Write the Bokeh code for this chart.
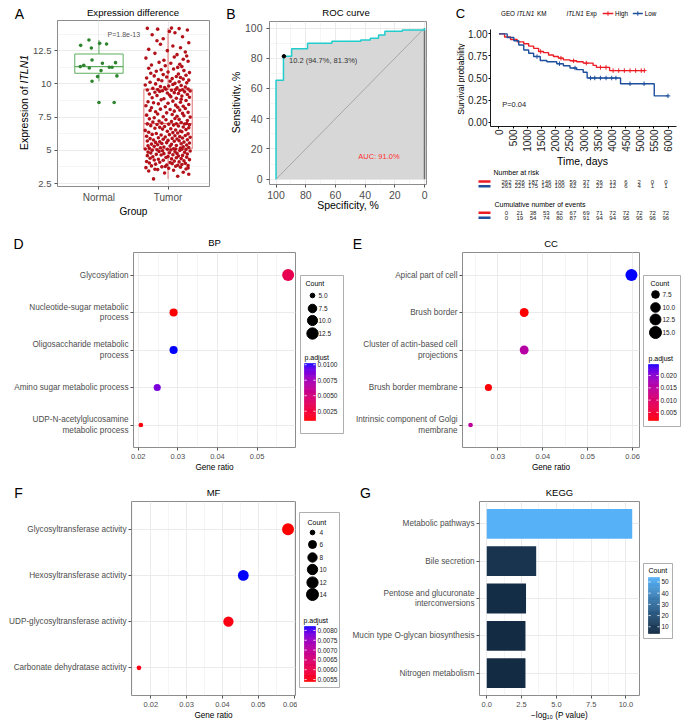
import math
import numpy as np
from bokeh.plotting import figure
from bokeh.models import (Range1d, FixedTicker, Label, LinearColorMapper,
                          PrintfTickFormatter, ColumnDataSource)
from bokeh.layouts import row, column
from bokeh.transform import transform
from bokeh.core.properties import value
from bokeh.embed import file_html
from bokeh.resources import INLINE

FONT = "Liberation Sans"

# ======================= DATA =======================
# ---- A: expression difference ----
groups = ["Normal", "Tumor"]
p_label_A = "P=1.8e-13"
normal_jitter = [-0.145, 0.01, 0.11, -0.265, -0.11, -0.22, -0.14, -0.27, -0.10, 0.05,
                 0.24, 0.15, 0.19, 0.03, -0.02, 0.26, -0.10, 0.0, 0.22]
normal_expr = [13.3, 13.05, 13.0, 12.9, 12.7, 11.4, 11.2, 11.3, 11.8, 11.55,
               11.6, 11.25, 11.25, 11.0, 10.55, 10.6, 10.2, 8.6, 8.6]
tumor_jitter = [
    -0.21, 0.14, 0.30, -0.05, 0.22, -0.28, 0.08, -0.15, 0.26, 0.01,
    -0.32, 0.18, -0.09, 0.11, -0.24, 0.29, -0.02, 0.20, -0.18, 0.06,
    0.25, -0.27, 0.03, -0.12, 0.16, -0.31, 0.09, 0.23, -0.07, -0.20,
    0.31, -0.14, 0.05, 0.19, -0.26, 0.12, -0.03, 0.27, -0.22, 0.00,
    0.15, -0.30, 0.21, -0.10, 0.07, -0.17, 0.28, -0.06, 0.13, -0.25,
    0.02, 0.24, -0.29, 0.10, -0.13, 0.32, -0.08, 0.17, -0.23, 0.04,
    -0.16, 0.26, -0.01, 0.20, -0.33, 0.11, -0.19, 0.29, -0.04, 0.14,
    0.08, -0.27, 0.18, -0.11, 0.30, -0.06, 0.22, -0.20, 0.03, -0.29,
    0.12, 0.27, -0.15, 0.05, -0.24, 0.19, -0.09, 0.31, -0.02, -0.18,
    0.23, -0.12, 0.09, -0.30, 0.16, 0.00, -0.21, 0.28, -0.07, 0.13,
    -0.26, 0.06, 0.21, -0.14, 0.32, -0.04, 0.17, -0.31, 0.10, 0.25,
    -0.10, 0.02, -0.23, 0.29, -0.17, 0.14, 0.07, -0.28, 0.20, -0.01,
    0.18, -0.33, 0.11, 0.26, -0.08, 0.04, -0.19, 0.30, -0.12, 0.22,
    -0.05, 0.15, -0.25, 0.08, 0.31, -0.16, 0.01, 0.24, -0.30, 0.12,
    0.27, -0.09, 0.19, -0.22, 0.05, -0.13, 0.28, -0.03, 0.16, -0.27,
    0.10, -0.20, 0.32, -0.07, 0.13, 0.23, -0.31, 0.06, -0.15, 0.21,
    -0.02, 0.29, -0.18, 0.09, -0.26, 0.17, 0.03, -0.11, 0.25, -0.24,
    0.14, -0.04, 0.22, -0.32, 0.11, 0.30, -0.14, 0.00, -0.21, 0.18,
    -0.29, 0.07, 0.26, -0.10, 0.19, -0.06, 0.12, -0.23, 0.31, 0.04,
    0.20, -0.16, 0.02, 0.28, -0.27, 0.15, -0.01, 0.09, -0.19, 0.24,
    -0.12, 0.32, -0.08, 0.17, 0.05, -0.30, 0.21, -0.15, 0.11, -0.03,
    0.29, -0.22, 0.13, -0.05, 0.25, -0.11, 0.01, 0.19, -0.33, 0.07,
    -0.18, 0.10, 0.27, -0.26, 0.16, 0.03, -0.09, 0.30, -0.14, 0.22,
    0.06, -0.31, 0.18, -0.02, 0.12, -0.20, 0.26, -0.07, 0.15, -0.25,
    0.31, 0.00, -0.17, 0.23, -0.10, 0.08, -0.28, 0.14, 0.20, -0.04,
    -0.24, 0.17, 0.04, -0.13, 0.29, -0.06, 0.22, -0.32, 0.09, 0.27,
    0.13, -0.19, 0.25, -0.01, -0.28, 0.18, 0.07, -0.11, 0.30, -0.16,
    -0.07, 0.21, -0.23, 0.10, 0.02, 0.28, -0.15, 0.16, -0.30, 0.05]
tumor_expr = [
    2.85, 3.05, 3.2, 3.3, 3.35, 3.45, 3.5, 3.55, 3.6, 3.65,
    3.7, 3.73, 3.76, 3.8, 3.83, 3.86, 3.9, 3.93, 3.96, 4.0,
    4.02, 4.05, 4.08, 4.1, 4.13, 4.16, 4.19, 4.22, 4.25, 4.27,
    4.3, 4.33, 4.36, 4.38, 4.41, 4.44, 4.46, 4.49, 4.52, 4.54,
    4.57, 4.6, 4.62, 4.65, 4.67, 4.7, 4.72, 4.75, 4.77, 4.8,
    4.82, 4.85, 4.87, 4.9, 4.92, 4.95, 4.97, 4.99, 5.01, 5.03,
    5.05, 5.07, 5.08, 5.09, 5.1, 5.1, 3.58, 3.68, 3.78, 3.88,
    5.12, 5.15, 5.18, 5.2, 5.22, 5.25, 5.27, 5.3, 5.32, 5.35,
    5.37, 5.4, 5.42, 5.45, 5.47, 5.5, 5.52, 5.55, 5.58, 5.6,
    5.62, 5.65, 5.68, 5.7, 5.72, 5.75, 5.78, 5.8, 5.83, 5.85,
    5.88, 5.9, 5.93, 5.95, 5.98, 6.0, 6.03, 6.06, 6.1, 6.12,
    6.15, 6.18, 6.2, 6.24, 6.27, 6.3, 6.33, 6.36, 6.4, 6.43,
    6.46, 6.5, 6.53, 6.56, 6.6, 6.63, 6.66, 6.7, 6.73, 6.76,
    6.8, 6.83, 6.86, 6.9, 6.92, 6.95, 6.97, 6.98, 6.99, 7.0,
    7.02, 7.05, 7.1, 7.13, 7.17, 7.2, 7.25, 7.3, 7.33, 7.37,
    7.4, 7.45, 7.5, 7.53, 7.57, 7.6, 7.65, 7.7, 7.74, 7.78,
    7.82, 7.86, 7.9, 7.95, 8.0, 8.03, 8.07, 8.1, 8.15, 8.2,
    8.24, 8.28, 8.32, 8.36, 8.4, 8.45, 8.5, 8.54, 8.58, 8.62,
    8.66, 8.7, 8.75, 8.8, 8.84, 8.88, 8.92, 8.96, 9.0, 9.04,
    9.08, 9.12, 9.16, 9.2, 9.24, 9.28, 9.31, 9.34, 9.37, 9.4,
    9.43, 9.46, 9.48, 9.5, 9.52, 9.54, 9.56, 9.57, 9.58, 9.6,
    9.62, 9.66, 9.7, 9.73, 9.77, 9.8, 9.84, 9.88, 9.92, 9.96,
    10.0, 10.04, 10.08, 10.12, 10.16, 10.2, 10.24, 10.28, 10.32, 10.36,
    10.4, 10.44, 10.48, 10.52, 10.56, 10.6, 10.65, 10.7, 10.75, 10.8,
    10.85, 10.9, 10.95, 11.0, 11.06, 11.12, 11.18, 11.24, 11.3, 11.36,
    11.42, 11.48, 11.55, 11.62, 11.7, 11.78, 11.86, 11.94, 12.02, 12.1,
    12.2, 12.3, 12.4, 12.5, 12.6, 12.72, 12.85, 12.98, 13.1, 13.25,
    13.4, 13.55, 13.7, 13.85, 13.95, 14.05, 14.12, 14.16, 14.18, 14.2]

# ---- B: ROC curve (specificity %, sensitivity %) ----
roc_spec = [100, 100, 95, 95, 89.5, 89.5, 78.8, 78.8, 62.4, 62.4, 43, 43,
            36.5, 36.5, 31, 31, 26.7, 26.7, 15, 15, 0, 0]
roc_sens = [0, 65.5, 65.5, 81.3, 81.3, 86.2, 86.2, 89.9, 89.9, 91.2, 91.2, 92.1,
            92.1, 93.2, 93.2, 95.4, 95.4, 97.8, 97.8, 98.6, 98.6, 100]
best_threshold = 10.2
best_spec = 94.7
best_sens = 81.3
auc_pct = 91.0

# ---- C: Kaplan-Meier ----
km_high_t = [0, 200, 410, 645, 880, 1055, 1230, 1407, 1580, 1760, 1934, 2110,
             2286, 2520, 2755, 2990, 3340, 3458, 3927, 5160]
km_high_s = [1.0, 0.965, 0.937, 0.91, 0.888, 0.862, 0.836, 0.80, 0.788, 0.76, 0.744,
             0.725, 0.706, 0.695, 0.684, 0.669, 0.643, 0.62, 0.584, 0.584]
km_low_t = [0, 293, 528, 703, 880, 1055, 1230, 1465, 1700, 2050, 2286, 2520,
            2755, 2990, 3130, 4314, 5510, 6000]
km_low_s = [1.0, 0.959, 0.922, 0.874, 0.818, 0.781, 0.743, 0.699, 0.684, 0.662,
            0.639, 0.613, 0.595, 0.565, 0.50, 0.435, 0.297, 0.297]
censor_high_t = [1480, 2200, 2650, 3100, 3600, 3800, 4050, 4250, 4450, 4650, 4850, 5050, 5160]
censor_low_t = [1350, 2150, 2700, 3250, 3400, 3600, 3800, 4000, 4150, 4650, 5150, 6000]
km_p_label = "P=0.04"
risk_times = [0, 500, 1000, 1500, 2000, 2500, 3000, 3500, 4000, 4500, 5000, 5500, 6000]
risk_high = [262, 226, 187, 146, 106, 59, 37, 26, 13, 6, 2, 0, 0]
risk_low = [263, 225, 175, 140, 100, 62, 31, 22, 12, 6, 4, 1, 1]
events_high = [0, 21, 38, 53, 62, 67, 69, 71, 72, 72, 72, 72, 72]
events_low = [0, 19, 54, 74, 80, 87, 91, 94, 94, 95, 95, 96, 96]

# ---- D: GO BP ----
bp_terms = ["Glycosylation", "Nucleotide-sugar metabolic\nprocess",
            "Oligosaccharide metabolic\nprocess", "Amino sugar metabolic process",
            "UDP-N-acetylglucosamine\nmetabolic process"]
bp_count = [14, 7, 7, 6, 5]
bp_total = 242
bp_padj = [0.0033, 0.0010, 0.0102, 0.0088, 0.0012]

# ---- E: GO CC ----
cc_terms = ["Apical part of cell", "Brush border", "Cluster of actin-based cell\nprojections",
            "Brush border membrane", "Intrinsic component of Golgi\nmembrane"]
cc_count = [15, 9, 9, 7, 6]
cc_total = 251
cc_padj = [0.0245, 0.0017, 0.0158, 0.0018, 0.0149]

# ---- F: GO MF ----
mf_terms = ["Glycosyltransferase activity", "Hexosyltransferase activity",
            "UDP-glycosyltransferase activity", "Carbonate dehydratase activity"]
mf_count = [14, 11, 10, 4]
mf_total = 240
mf_padj = [0.0054, 0.0082, 0.0055, 0.0055]

# ---- G: KEGG ----
kegg_terms = ["Metabolic pathways", "Bile secretion", "Pentose and glucuronate\ninterconversions",
              "Mucin type O-glycan biosynthesis", "Nitrogen metabolism"]
kegg_logp = [10.45, 3.55, 2.82, 2.78, 2.78]
kegg_count = [54, 8, 5, 4, 4]

# ======================= COLOURS =======================
def _lin(c):
    return c / 12.92 if c <= 0.04045 else ((c + 0.055) / 1.055) ** 2.4

def _gam(c):
    c = min(max(c, 0.0), 1.0)
    return 12.92 * c if c <= 0.0031308 else 1.055 * c ** (1 / 2.4) - 0.055

def hex2lab(h):
    r, g, b = [_lin(int(h[i:i + 2], 16) / 255) for i in (1, 3, 5)]
    X = (0.4124 * r + 0.3576 * g + 0.1805 * b) / 0.95047
    Y = 0.2126 * r + 0.7152 * g + 0.0722 * b
    Z = (0.0193 * r + 0.1192 * g + 0.9505 * b) / 1.08883
    f = lambda t: t ** (1 / 3) if t > 0.008856 else 7.787 * t + 16 / 116
    fx, fy, fz = f(X), f(Y), f(Z)
    return (116 * fy - 16, 500 * (fx - fy), 200 * (fy - fz))

def lab2hex(L, a, b):
    fy = (L + 16) / 116
    fx = fy + a / 500
    fz = fy - b / 200
    inv = lambda t: t ** 3 if t ** 3 > 0.008856 else (t - 16 / 116) / 7.787
    X, Y, Z = inv(fx) * 0.95047, inv(fy), inv(fz) * 1.08883
    r = 3.2406 * X - 1.5372 * Y - 0.4986 * Z
    g = -0.9689 * X + 1.8758 * Y + 0.0415 * Z
    bb = 0.0557 * X - 0.2040 * Y + 1.0570 * Z
    return "#%02x%02x%02x" % tuple(int(round(_gam(c) * 255)) for c in (r, g, bb))

def lab_ramp(c0, c1, n=256):
    a, b = hex2lab(c0), hex2lab(c1)
    return [lab2hex(*[a[k] + (b[k] - a[k]) * i / (n - 1) for k in range(3)]) for i in range(n)]

RED_BLUE = lab_ramp("#ff0000", "#0000ff")
NAVY_SKY = lab_ramp("#132b43", "#56b1f7")

GRID = "#ebebeb"
BORDER = "#8c8c8c"
TICKTXT = "#4d4d4d"
HIGH_C = "#ec1c24"
LOW_C = "#1d4f9c"

# ======================= HELPERS =======================
def fig(w, h, xr, yr, L, R, T, B, **kw):
    p = figure(width=w, height=h, x_range=xr, y_range=yr, min_border_left=L,
               min_border_right=R, min_border_top=T, min_border_bottom=B,
               toolbar_location=None, output_backend="svg", frame_align=False, **kw)
    p.border_fill_color = "white"
    p.background_fill_color = "white"
    return p

def blank(w, h, xr=None):
    """figure whose frame covers the whole canvas; y counts pixels downwards"""
    p = fig(w, h, xr if xr is not None else Range1d(0, w), Range1d(h, 0), 0, 0, 0, 0,
            x_axis_type=None, y_axis_type=None)
    p.outline_line_color = None
    return p

def put(p, fx, fy, text, size, color="#000000", align="center", baseline="middle",
        angle=0.0, style="normal"):
    """text at figure-local pixel (fx, fy) from the top-left corner (inside the frame)"""
    p.add_layout(Label(x=p.x_range.start, y=p.y_range.end,
                       x_offset=fx - p.min_border_left, y_offset=p.min_border_top - fy,
                       text=text, text_font=FONT, text_font_size=f"{size}px",
                       text_color=color, text_align=align, text_baseline=baseline,
                       angle=angle, text_font_style=style))

def put_data(p, x, y, text, size, color="#000000", align="center"):
    p.add_layout(Label(x=x, y=y, text=text, text_font=FONT, text_font_size=f"{size}px",
                       text_color=color, text_align=align, text_baseline="middle"))

def style_axis_label(ax, text, size, standoff):
    ax.axis_label = text
    ax.axis_label_text_font = FONT
    ax.axis_label_text_font_size = f"{size}px"
    ax.axis_label_text_font_style = "normal"
    ax.axis_label_text_color = "#000000"
    ax.axis_label_standoff = standoff

def bw_axes(p, xticks, yticks, xminor=None, yminor=None, xfmt=None, xover=None,
            yover=None, xfs=7.5, yfs=8.2, xstand=2, ystand=2):
    p.outline_line_color = BORDER
    p.outline_line_width = 1
    xt = FixedTicker(ticks=xticks, minor_ticks=xminor or [])
    yt = FixedTicker(ticks=yticks, minor_ticks=yminor or [])
    p.xaxis.ticker = xt
    p.yaxis.ticker = yt
    p.xgrid.ticker = xt
    p.ygrid.ticker = yt
    for g in (p.xgrid[0], p.ygrid[0]):
        g.grid_line_color = GRID
        g.grid_line_width = 1
        g.minor_grid_line_color = GRID
        g.minor_grid_line_width = 0.5
    if xfmt:
        p.xaxis.formatter = PrintfTickFormatter(format=xfmt)
    if xover:
        p.xaxis.major_label_overrides = xover
    if yover:
        p.yaxis.major_label_overrides = yover
    for ax, fs, st in ((p.xaxis[0], xfs, xstand), (p.yaxis[0], yfs, ystand)):
        ax.axis_line_color = None
        ax.major_tick_line_color = "#555555"
        ax.major_tick_out = 3
        ax.major_tick_in = 0
        ax.minor_tick_line_color = None
        ax.major_label_text_font = FONT
        ax.major_label_text_font_size = f"{fs}px"
        ax.major_label_text_color = TICKTXT
        ax.major_label_standoff = st

def size_fn(cmin, cmax):
    return lambda c: 4.7 + 7.3 * math.sqrt((c - cmin) / (cmax - cmin))

def size_legend(pl, box, title_xy, cx, ys, breaks, labels, sf, lab_x):
    pl.quad(left=[box[0]], right=[box[1]], top=[box[2]], bottom=[box[3]], fill_color="white",
            line_color="#9a9a9a", line_width=0.8)
    put(pl, title_xy[0], title_xy[1], "Count", 7, align="left")
    pl.scatter(x=[cx] * len(ys), y=ys, size=[sf(b) for b in breaks], color="black")
    for y, t in zip(ys, labels):
        put(pl, lab_x, y, t, 6.5, color="#222222", align="left")

def gradient_bar(pl, mapper, x0, x1, ytop, ybot, ticks, fmt, lab_x, title, title_xy, n=60):
    lo, hi = mapper.low, mapper.high
    step = (ybot - ytop) / n
    vals = [lo + (hi - lo) * (i + 0.5) / n for i in range(n)]
    src = ColumnDataSource(dict(v=vals,
                                b=[ybot - i * step for i in range(n)],
                                t=[ybot - (i + 1) * step for i in range(n)]))
    pl.quad(left=x0, right=x1, top="t", bottom="b", source=src,
            fill_color=transform("v", mapper), line_color=transform("v", mapper),
            line_width=0.6)
    ys = [ybot - (t - lo) / (hi - lo) * (ybot - ytop) for t in ticks]
    pl.segment(x0=[x0] * len(ys), y0=ys, x1=[x0 + 2.2] * len(ys), y1=ys, line_color="white", line_width=0.8)
    pl.segment(x0=[x1 - 2.2] * len(ys), y0=ys, x1=[x1] * len(ys), y1=ys, line_color="white", line_width=0.8)
    for y, t in zip(ys, ticks):
        put(pl, lab_x, y, fmt % t, 6.5, color="#222222", align="left")
    put(pl, title_xy[0], title_xy[1], title, 7, align="left")

# ======================= A =======================
leftA = blank(30, 228)
put(leftA, 19, 13, "A", 14)
put(leftA, 23, 149.5, "Expression of ", 10.5, align="left", angle=math.pi / 2)
put(leftA, 23, 83, "ITLN1", 10.5, align="left", angle=math.pi / 2, style="italic")

tA = blank(195, 19)
put(tA, 102.5, 12, "Expression difference", 9.6)

pA = fig(195, 209, Range1d(0.4, 2.6), Range1d(2.28, 14.77), 26, 16, 1, 42)
bw_axes(pA, [1, 2], [2.5, 5, 7.5, 10, 12.5], yminor=[3.75, 6.25, 8.75, 11.25, 13.75],
        xover={1: groups[0], 2: groups[1]},
        yover={2.5: "2.5", 5: "5", 7.5: "7.5", 10: "10", 12.5: "12.5"}, xfs=10, yfs=9.5)
style_axis_label(pA.xaxis[0], "Group", 10, 0)
box_cols = [("#5fae5f", "#2e842e"), ("#e07474", "#b3121a")]
for k, (jit, vals) in enumerate(((normal_jitter, normal_expr), (tumor_jitter, tumor_expr))):
    c = k + 1
    arr = np.array(vals)
    q1, med, q3 = np.percentile(arr, [25, 50, 75])
    iqr = q3 - q1
    lo_w = arr[arr >= q1 - 1.5 * iqr].min()
    hi_w = arr[arr <= q3 + 1.5 * iqr].max()
    line_c, pt_c = box_cols[k]
    pA.segment(x0=[c, c], y0=[q3, lo_w], x1=[c, c], y1=[hi_w, q1], line_color=line_c, line_width=1)
    pA.quad(left=[c - 0.35], right=[c + 0.35], bottom=[q1], top=[q3], fill_color="white",
            line_color=line_c, line_width=1)
    pA.segment(x0=[c - 0.35], y0=[med], x1=[c + 0.35], y1=[med], line_color=line_c, line_width=1.2)
    pA.scatter(x=[c + j for j in jit], y=vals, size=3.6, color=pt_c, line_color=None)
put_data(pA, 1.36, 13.7, p_label_A, 7, color="#555555")

# ======================= B =======================
leftB = blank(16, 228)
put(leftB, 5.5, 13, "B", 14)
put(leftB, 10, 102, "Sensitivity, %", 10.5, angle=math.pi / 2)

tB = blank(214, 19)
put(tB, 104.5, 12, "ROC curve", 9.6)

pB = fig(214, 209, Range1d(104.4, -1.3), Range1d(-3.5, 104.3), 24, 29, 2, 44)
bw_axes(pB, [100, 80, 60, 40, 20, 0], [0, 20, 40, 60, 80, 100],
        xminor=[90, 70, 50, 30, 10], yminor=[10, 30, 50, 70, 90], xfs=10.5, yfs=10.5,
        xstand=2, ystand=3)
style_axis_label(pB.xaxis[0], "Specificity, %", 10.5, -3)
pB.patch(roc_spec + [0, 100], roc_sens + [0, 0], fill_color="#d7d7d7", line_color=None)
pB.line([0, 0], [0, roc_sens[-2]], line_color="#6e6e6e", line_width=1.6)
pB.line([100, 0], [0, 100], line_color="#9a9a9a", line_width=0.8)
pB.line(roc_spec, roc_sens, line_color="#22cccc", line_width=1.5)
pB.scatter([best_spec], [best_sens], size=3.5, color="black")
put_data(pB, best_spec - 3.4, best_sens - 2.8,
         f"{best_threshold} ({best_spec}%, {best_sens}%)", 7.5, color="#333333", align="left")
put_data(pB, 30.7, 15.3, f"AUC: {auc_pct:.1f}%", 7.5, color="#ff3030")

# ======================= C =======================
leftC = blank(10, 154)
put(leftC, 5, 13, "C", 13)
put(leftC, 5, 78.6, "Survival probability", 8.5, angle=math.pi / 2)

tC = blank(224, 19)
put(tC, 35.5, 13, "GEO", 6.3, align="left")
put(tC, 51.5, 13, "ITLN1", 6.3, align="left", style="italic")
put(tC, 71.5, 13, "KM", 6.3, align="left")
put(tC, 101, 13, "ITLN1", 6.3, align="left", style="italic")
put(tC, 120.5, 13, "Exp", 6.3, align="left")
for x0, x1, col, txt, tx in ((137.2, 147.8, HIGH_C, "High", 149.6),
                             (167.3, 177.3, LOW_C, "Low", 179.2)):
    tC.segment(x0=[x0], y0=[13], x1=[x1], y1=[13], line_color=col, line_width=1.4)
    tC.scatter([(x0 + x1) / 2], [13], marker="cross", size=4.5, line_color=col, line_width=1)
    put(tC, tx, 13, txt, 6.3, align="left")

pC = fig(224, 135, Range1d(-300, 6300), Range1d(-0.05, 1.05), 23, 13, 10, 26)
pC.grid.visible = False
pC.outline_line_color = None
pC.xaxis.ticker = FixedTicker(ticks=risk_times)
pC.yaxis.ticker = FixedTicker(ticks=[0, 0.25, 0.5, 0.75, 1.0])
pC.yaxis.formatter = PrintfTickFormatter(format="%.2f")
pC.xaxis.major_label_orientation = math.pi / 2
for ax in (pC.xaxis[0], pC.yaxis[0]):
    ax.axis_line_color = "black"
    ax.axis_line_width = 0.9
    ax.major_tick_line_color = "black"
    ax.major_tick_out = 2
    ax.major_tick_in = 0
    ax.minor_tick_line_color = None
    ax.major_label_text_font = FONT
    ax.major_label_text_font_size = "10px"
    ax.major_label_text_color = "#222222"
    ax.major_label_standoff = 1

def surv_at(ts, ss, t):
    return ss[int(np.searchsorted(ts, t, side="right")) - 1]

for ts, ss, cens, col in ((km_high_t, km_high_s, censor_high_t, HIGH_C),
                          (km_low_t, km_low_s, censor_low_t, LOW_C)):
    pC.step(ts, ss, mode="after", line_color=col, line_width=1.4)
    pC.scatter(cens, [surv_at(ts, ss, t) for t in cens], marker="cross", size=4.5,
               line_color=col, line_width=1)
put_data(pC, 116, 0.194, km_p_label, 7.5, color="#222222", align="left")

# risk table
TAB0, TABS = 51, 0.02655           # pixel of day 0 and pixels per day in the table
pT = blank(234, 74, Range1d(-TAB0 / TABS, (234 - TAB0) / TABS))
def tab_x(px):
    return (px - TAB0) / TABS
put(pT, 127, 6.5, "Time, days", 10.5)
put(pT, 38, 18, "Number at risk", 7, align="left")
put(pT, 39, 50.3, "Cumulative number of events", 7, align="left")
for yy, vals, col in ((27, risk_high, HIGH_C), (31.7, risk_low, LOW_C),
                      (58.3, events_high, HIGH_C), (63.3, events_low, LOW_C)):
    pT.segment(x0=[tab_x(23)], y0=[yy], x1=[tab_x(35)], y1=[yy], line_color=col, line_width=2.6)
    pT.text(x=risk_times, y=[yy] * len(vals), text=[str(v) for v in vals],
            text_font=value(FONT), text_font_size=value("6px"), text_color="#222222",
            text_align="center", text_baseline="middle")

# ======================= strips with panel letters / titles =======================
s2 = blank(689, 22)
put(s2, 18, 15, "D", 14)
put(s2, 214, 14, "BP", 9.5)
put(s2, 357, 15, "E", 14)
put(s2, 550.5, 15, "CC", 9.5)

s3 = blank(689, 22)
put(s3, 18, 14, "F", 14)
put(s3, 213, 14, "MF", 9.5)
put(s3, 365, 14, "G", 14)
put(s3, 559, 14, "KEGG", 9.5)

# ======================= D / E / F (dot plots) =======================
def dot_panel(w, h, L, R, T, B, terms, counts, total, padj, xticks, xminor):
    n = len(terms)
    ratio = [c / total for c in counts]
    lo, hi = min(ratio), max(ratio)
    span = hi - lo
    p = fig(w, h, Range1d(lo - 0.05 * span, hi + 0.05 * span), Range1d(0.4, n + 0.6), L, R, T, B)
    ypos = [n - i for i in range(n)]
    bw_axes(p, xticks, ypos, xminor=xminor, xfmt="%.2f",
            yover={ypos[i]: terms[i] for i in range(n)}, xfs=7.5, yfs=8.2)
    style_axis_label(p.xaxis[0], "Gene ratio", 8.2, 1)
    mapper = LinearColorMapper(palette=RED_BLUE, low=min(padj), high=max(padj))
    sf = size_fn(min(counts), max(counts))
    src = ColumnDataSource(dict(x=ratio, y=ypos, s=[sf(c) for c in counts], p=padj))
    p.scatter("x", "y", size="s", source=src, fill_color=transform("p", mapper), line_color=None)
    return p, mapper, sf

pD, mD, sD = dot_panel(297, 228, 133, 2, 2, 31, bp_terms, bp_count, bp_total, bp_padj,
                       [0.02, 0.03, 0.04, 0.05], [0.025, 0.035, 0.045, 0.055])
pE, mE, sE = dot_panel(296, 228, 117, 2, 2, 31, cc_terms, cc_count, cc_total, cc_padj,
                       [0.03, 0.04, 0.05, 0.06], [0.025, 0.035, 0.045, 0.055])
pF, mF, sF = dot_panel(297, 222, 131, 2, 1, 25, mf_terms, mf_count, mf_total, mf_padj,
                       [0.02, 0.03, 0.04, 0.05, 0.06], [0.015, 0.025, 0.035, 0.045, 0.055])

pDl = blank(48, 228)
size_legend(pDl, (3, 46, 25, 183), (8, 33), 15, [45, 58, 70, 83], [5, 7.5, 10, 12.5],
            ["5.0", "7.5", "10.0", "12.5"], sD, 21)
gradient_bar(pDl, mD, 7, 18, 113, 170, [0.0025, 0.005, 0.0075, 0.01], "%.4f", 20,
             "p.adjust", (7, 107))

pEl = blank(48, 228)
size_legend(pEl, (2, 39, 25, 176), (9, 33), 14, [44, 57, 69, 82], [7.5, 10, 12.5, 15],
            ["7.5", "10.0", "12.5", "15.0"], sE, 21)
gradient_bar(pEl, mE, 7, 17, 114, 170, [0.005, 0.010, 0.015, 0.020], "%.3f", 19,
             "p.adjust", (7, 108))

pFl = blank(48, 222)
size_legend(pFl, (2, 42, 12, 187), (10, 22), 15, [32, 44, 57, 69, 82, 94],
            [4, 6, 8, 10, 12, 14], ["4", "6", "8", "10", "12", "14"], sF, 22)
gradient_bar(pFl, mF, 7, 18, 126, 181, [0.0055, 0.006, 0.0065, 0.007, 0.0075, 0.008], "%.4f",
             20, "p.adjust", (6, 120))

# ======================= G (KEGG bars) =======================
nK = len(kegg_terms)
kmax = max(kegg_logp)
pG = fig(296, 222, Range1d(-0.05 * kmax, 1.05 * kmax), Range1d(0.4, nK + 0.6), 134, 2, 1, 25)
yK = [nK - i for i in range(nK)]
bw_axes(pG, [0, 2.5, 5, 7.5, 10], yK, xminor=[1.25, 3.75, 6.25, 8.75], xfmt="%.1f",
        yover={yK[i]: kegg_terms[i] for i in range(nK)}, xfs=7.5, yfs=8.2)
style_axis_label(pG.xaxis[0], "\u2212log\u2081\u2080 (P value)", 8.2, 1)
mG = LinearColorMapper(palette=NAVY_SKY, low=min(kegg_count), high=max(kegg_count))
srcG = ColumnDataSource(dict(y=yK, v=kegg_logp, c=kegg_count))
pG.hbar(y="y", left=0, right="v", height=0.8, source=srcG,
        fill_color=transform("c", mG), line_color=None)

pGl = blank(48, 222)
pGl.quad(left=[2], right=[31], top=[63], bottom=[138], fill_color="white",
         line_color="#9a9a9a", line_width=0.8)
gradient_bar(pGl, mG, 7, 18, 77, 133, [10, 20, 30, 40, 50], "%d", 20, "Count", (7, 70))

# ======================= LAYOUT =======================
layout = column(
    row(leftA, column(tA, pA), leftB, column(tB, pB),
        column(row(leftC, column(tC, pC)), pT)),
    s2,
    row(pD, pDl, pE, pEl),
    s3,
    row(pF, pFl, pG, pGl),
)
open("out.html", "w").write(file_html(layout, INLINE))
